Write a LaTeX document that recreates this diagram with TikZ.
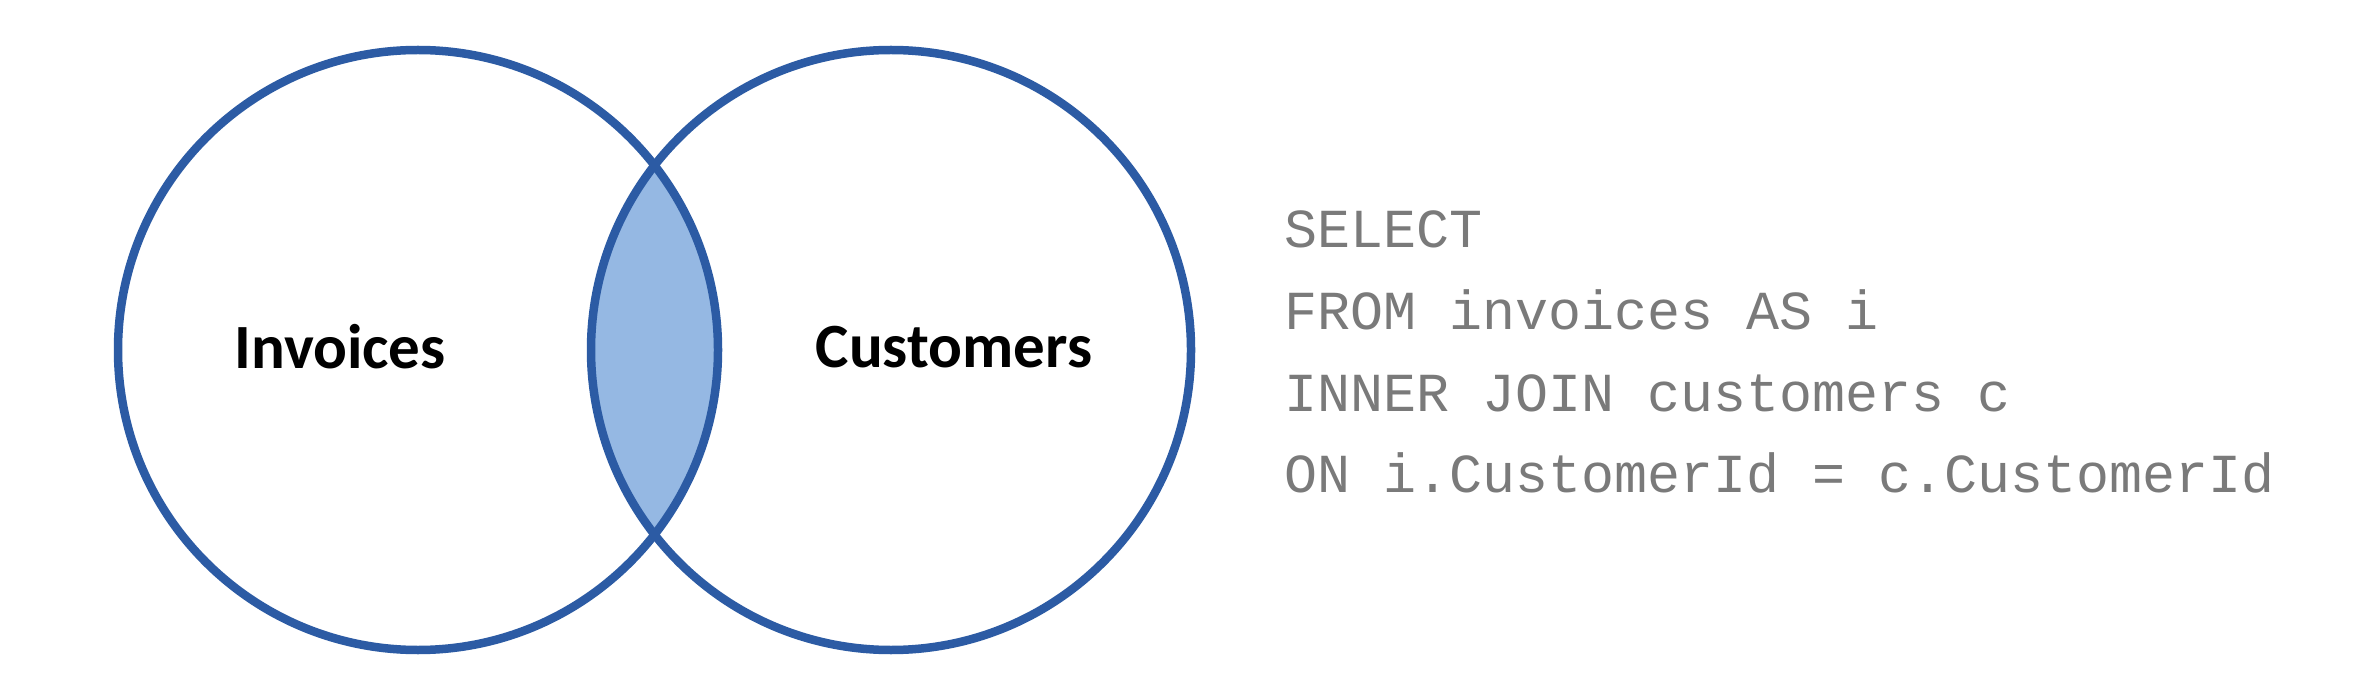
\documentclass[tikz,border=0pt]{standalone}
\usepackage{fontspec}
\usepackage{tikz}
\newfontfamily\codefont{Liberation Mono}
\newfontfamily\labelfont{Carlito}
\definecolor{setblue}{RGB}{44,91,164}
\definecolor{lensblue}{RGB}{149,184,227}
\definecolor{codegray}{RGB}{122,122,122}

\begin{document}
\begin{tikzpicture}[x=1pt, y=-1pt,
  setline/.style={draw=setblue, line width=8.5pt},
  setlabel/.style={font=\labelfont\bfseries\fontsize{63}{70}\selectfont, text=black},
  sqlline/.style={font=\codefont\fontsize{55}{60}\selectfont, text=codegray, anchor=base west, inner sep=0pt}]
%%%%% Frame %%%%%
\useasboundingbox (0,0) rectangle (2368,684);
\fill[white] (0,0) rectangle (2368,684);
\coordinate (inv) at (418,350);
\coordinate (cus) at (891,350);
%%%%% Overlap %%%%%
\begin{scope}
\clip (inv) circle[radius=300pt];
\fill[lensblue] (cus) circle[radius=300pt];
\end{scope}
\draw[setline] (inv) circle[radius=300pt];
\draw[setline] (cus) circle[radius=300pt];
\node[setlabel] (invlabel) at (340,347) {Invoices};
\node[setlabel] (cuslabel) at (954,347) {Customers};
%%%%% Query %%%%%
\foreach \t [count=\k] in {SELECT, FROM invoices AS i, INNER JOIN customers c, ON i.CustomerId = c.CustomerId}{
\node[sqlline] (sql\k) at (1284,{248+81.6*(\k-1)}) {\t};
}
\end{tikzpicture}
\end{document}
